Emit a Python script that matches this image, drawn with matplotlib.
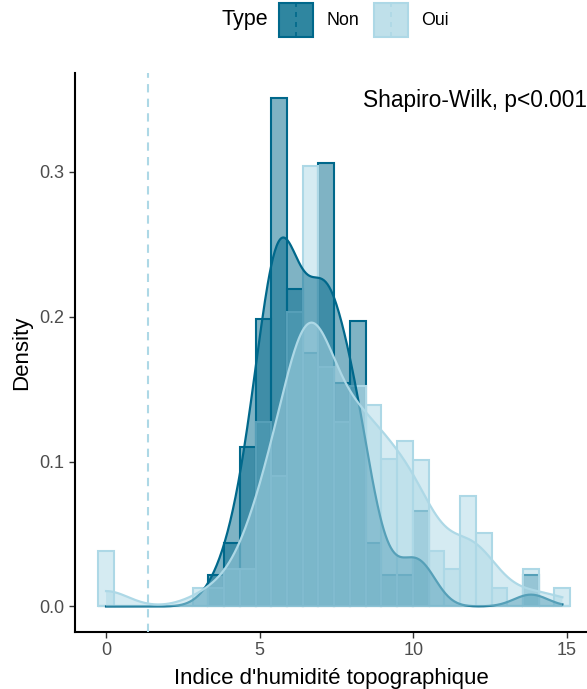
import numpy as np
import matplotlib
matplotlib.use("Agg")
import matplotlib.pyplot as plt
from matplotlib.patches import Patch, Rectangle
from matplotlib.lines import Line2D
from matplotlib.legend_handler import HandlerPatch
import matplotlib.transforms as mtransforms

plt.rcParams['font.family'] = ['Liberation Sans', 'DejaVu Sans']

# histogram bins (ggplot default: 30 bins over the data range 0 .. 14.85)
binwidth = 0.512
centers = np.arange(30) * binwidth

# histogram densities, one value per bin
dens_non = [0, 0, 0, 0, 0, 0, 0, 0.022, 0.044, 0.110,
            0.198, 0.351, 0.219, 0.175, 0.306, 0.154, 0.197, 0.044, 0.022, 0.022,
            0.066, 0, 0, 0, 0, 0, 0, 0.022, 0, 0]
dens_oui = [0.038, 0, 0, 0, 0, 0, 0.013, 0.013, 0.026, 0.026,
            0.127, 0.090, 0.203, 0.304, 0.165, 0.127, 0.152, 0.139, 0.102, 0.114,
            0.101, 0.038, 0.026, 0.076, 0.051, 0.013, 0, 0.026, 0, 0.013]

groups = ["Non", "Oui"]
colors = {"Non": "#00688B", "Oui": "#ADD8E6"}
bandwidth = {"Non": 0.55, "Oui": 0.72}
vline_x = 1.37
note = "Shapiro-Wilk, p<0.001"


def kde_from_bins(c, d, bw, grid):
    w = np.asarray(d, dtype=float)
    w = w / w.sum()
    z = (grid[:, None] - c[None, :]) / bw
    return (w[None, :] * np.exp(-0.5 * z ** 2)).sum(axis=1) / (bw * np.sqrt(2 * np.pi))


fig = plt.figure(figsize=(5.87, 6.89), dpi=100)
ax = fig.add_axes([75 / 587, 1 - 632 / 689, 512 / 587, 559 / 689])

# histograms
for g, d in zip(groups, [dens_non, dens_oui]):
    ax.bar(centers, d, width=binwidth, facecolor=matplotlib.colors.to_rgba(colors[g], 0.5),
           edgecolor=colors[g], linewidth=1.5, zorder=2)

# density curves
grid = np.linspace(0, centers[-1], 512)
for g, d in zip(groups, [dens_non, dens_oui]):
    y = kde_from_bins(centers, d, bandwidth[g], grid)
    ax.fill_between(grid, 0, y, facecolor=colors[g], alpha=0.5, linewidth=0, zorder=3)
    ax.plot(grid, y, color=colors[g], linewidth=1.6, zorder=3)

ax.axvline(vline_x, color=colors["Oui"], linestyle=(0, (4, 3)), linewidth=1.5, zorder=4)

ax.set_xlim(-1.01, 15.65)
ax.set_ylim(-0.0176, 0.368)
ax.set_xticks([0, 5, 10, 15])
ax.set_yticks([0.0, 0.1, 0.2, 0.3])
ax.set_yticklabels(["0.0", "0.1", "0.2", "0.3"])
ax.tick_params(axis="both", labelsize=13, labelcolor="#4d4d4d", color="#333333",
               length=4, width=1)
for s in ["top", "right"]:
    ax.spines[s].set_visible(False)
for s in ["left", "bottom"]:
    ax.spines[s].set_linewidth(1.5)
ax.set_xlabel("Indice d'humidité topographique", fontsize=16, labelpad=6)
ax.set_ylabel("Density", fontsize=16, labelpad=5)

trans = mtransforms.blended_transform_factory(ax.transAxes, ax.transData)
ax.text(1.0, 0.349, note, transform=trans, ha="right", va="center", fontsize=16.4)


class KeyHandler(HandlerPatch):
    def create_artists(self, legend, orig_handle, xdescent, ydescent, width, height,
                       fontsize, trans):
        fc = orig_handle.get_facecolor()
        ec = orig_handle.get_edgecolor()
        r = Rectangle((-xdescent, -ydescent), width, height, facecolor=fc,
                      edgecolor=ec, linewidth=1.5, transform=trans)
        xm = -xdescent + width / 2
        ln = Line2D([xm, xm], [-ydescent, -ydescent + height], color=ec,
                    linestyle=(0, (3, 3)), linewidth=1.2, transform=trans)
        return [r, ln]


key_fc = {"Non": "#2f86a0", "Oui": "#bfe0ea"}
handles = [Patch(facecolor=key_fc[g], edgecolor=colors[g], label=g) for g in groups]
fig.legend(handles=handles, loc="center left", bbox_to_anchor=(279 / 587, 1 - 20 / 689),
           ncol=2, frameon=False, fontsize=12.8, handlelength=1.9, handleheight=2.6,
           handletextpad=0.75, columnspacing=0.85, borderpad=0, borderaxespad=0,
           handler_map={Patch: KeyHandler()})
fig.text(222 / 587, 1 - 20 / 689, "Type", fontsize=15.5, ha="left", va="center")

fig.savefig("out.png", dpi=100)
